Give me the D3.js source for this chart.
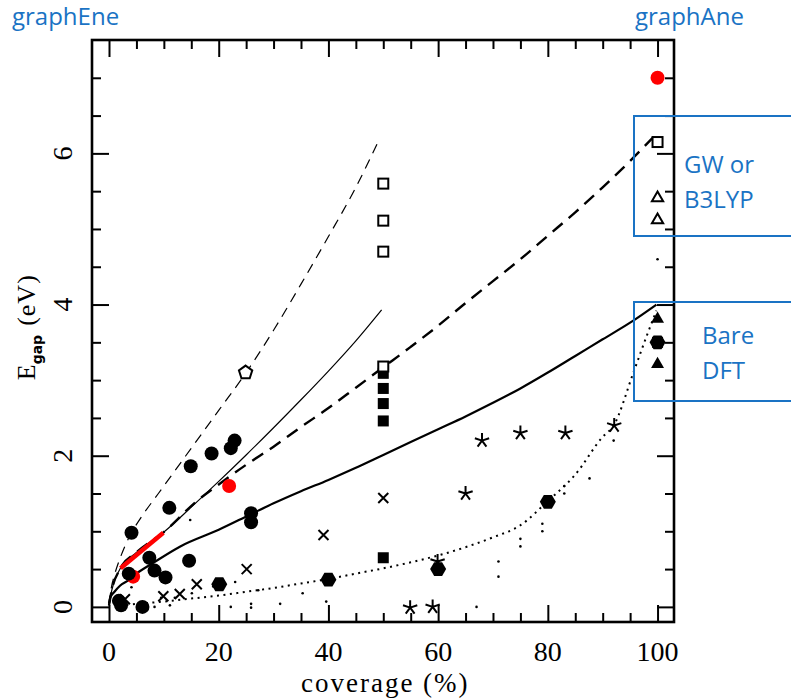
<!DOCTYPE html>
<html>
<head>
<meta charset="utf-8">
<script src="https://cdn.jsdelivr.net/npm/d3@7"></script>
<style>
  html, body { margin: 0; padding: 0; background: #fff; }
  svg { display: block; }
</style>
</head>
<body>
<svg id="chart" width="791" height="699"></svg>
<script>
// ---- data: band gap (eV) versus hydrogen coverage (%) ----
const xMajorTicks = [0, 20, 40, 60, 80, 100];
const yMajorTicks = [0, 2, 4, 6];

// model curves [coverage, gap]
const curveThinDashed = [[0,0.02],[0.3,0.2],[1,0.42],[2,0.64],[3,0.82],[4.1,0.98],[6,1.2],[9,1.5],[12,1.8],[15,2.1],[20,2.6],[25,3.10],[30,3.66],[35,4.27],[40,4.9],[45,5.55],[49.1,6.16]];
const curveThinSolid = [[0,0.02],[0.5,0.22],[2,0.5],[5,0.72],[10,0.99],[15,1.32],[20,1.66],[25,2.01],[30,2.37],[35,2.74],[40,3.12],[45,3.52],[49.7,3.93]];
const curveThickDashed = [[0,0.02],[0.5,0.22],[2,0.5],[5,0.72],[10,0.99],[16,1.40],[20,1.62],[25,1.88],[30,2.12],[35,2.38],[40,2.63],[45,2.90],[50,3.17],[55,3.44],[60,3.72],[65,4.02],[70,4.31],[75,4.60],[80,4.91],[85,5.22],[90,5.55],[95,5.90],[99.3,6.22]];
const curveThickSolid = [[0,0.05],[0.2,0.12],[1,0.2],[2,0.28],[3.5,0.35],[5,0.44],[8,0.58],[13,0.80],[20,1.02],[25.7,1.22],[30,1.37],[35,1.53],[40,1.68],[45,1.84],[50,2.01],[55,2.18],[60,2.35],[65,2.52],[70,2.70],[75,2.89],[80,3.10],[85,3.32],[90,3.54],[95,3.76],[99.8,4.0]];
const curveDotted = [[2,0.02],[5,0.04],[10,0.07],[15,0.11],[20,0.15],[25,0.2],[30,0.25],[35,0.31],[40,0.37],[45,0.44],[50,0.51],[55,0.59],[60,0.68],[65,0.79],[70,0.92],[75,1.08],[80,1.40],[85,1.75],[90,2.25],[92,2.40],[95.6,3.1],[98,3.58],[99.8,3.92]];

// measured / computed gaps
const filledCircles = [[1.8,0.08],[2.2,0.02],[6.1,0.0],[4.1,0.98],[7.35,0.65],[8.3,0.48],[10.3,0.39],[11.0,1.31],[14.6,0.61],[14.9,1.86],[18.7,2.03],[22.2,2.10],[22.9,2.20],[25.9,1.24],[25.9,1.12]];
const redCircles = [[4.4,0.40],[21.9,1.60],[100,7.0]];
const circlesOverRed = [[3.6,0.44]];
const filledHexagons = [[20.1,0.30],[40,0.36],[60,0.50],[80,1.39],[100,3.5]];
const openSquares = [[50,5.60],[50,5.11],[50,4.70],[50,3.18],[100,6.15]];
const filledSquares = [[50,3.09],[50,2.89],[50,2.69],[50,2.46],[50,0.65],[100,3.5]];
const openPentagons = [[24.9,3.10]];
const openTriangles = [[100,5.41],[100,5.12]];
const filledTriangles = [[100,3.81],[100,3.21]];
const crosses = [[2.9,0.10],[9.9,0.14],[12.9,0.17],[16.0,0.30],[25.1,0.50],[39.1,0.95],[50,1.44]];
const stars = [[54.9,-0.01],[59.0,0.0],[59.9,0.60],[65.0,1.50],[68.0,2.20],[75.0,2.30],[83.2,2.30],[92.1,2.40]];
const smallDots = [[4.1,0.26],[3.0,0.06],[5.5,0.02],[8.3,0.0],[11.1,0.02],[9.5,0.12],[12,0.12],[14.8,1.15],[15.1,0.18],[19.0,0.27],[23.0,0.33],[22.2,0.0],[25.9,0.04],[25.9,-0.01],[27.2,0.22],[31.2,0.04],[35.3,0.18],[39.6,0.07],[67.0,0.0],[71.0,0.60],[71.0,0.40],[75.0,0.90],[75.0,0.80],[79.0,1.10],[79.0,1.00],[83.0,1.60],[83.0,1.50],[87.6,1.70],[92.0,2.20],[100,4.60]];
const redSegment = [[2.1,0.51],[9.9,0.98]];

const topLabels = ["graphEne", "graphAne"];
const boxLabels = [["GW or", "B3LYP"], ["Bare", "DFT"]];

// ---- layout ----
const svg = d3.select("#chart");
const plot = { left: 92, right: 674, top: 40, bottom: 622 };
const x = d3.scaleLinear().domain([-3.1, 103]).range([plot.left, plot.right]);
const y = d3.scaleLinear().domain([-0.2, 7.5]).range([plot.bottom, plot.top]);
const serif = "'Liberation Serif', 'DejaVu Serif', serif";
const sans = "'Open Sans', 'Noto Sans', sans-serif";
const blue = "#1a73c4";

const g = svg.append("g");

// ---- axes with inward ticks on all four sides ----
const xMinor = d3.range(0, 101, 5).filter(v => v % 20 !== 0);
const yMinor = d3.range(0, 7.01, 0.5).filter(v => v % 2 !== 0);
function styleAxis(sel) {
  sel.select(".domain").remove();
  sel.selectAll(".tick line").attr("stroke", "#000").attr("stroke-width", 2);
  sel.selectAll("text").remove();
}
const axisDefs = [
  [d3.axisBottom, x, xMajorTicks, xMinor, `translate(0,${plot.bottom})`],
  [d3.axisTop, x, xMajorTicks, xMinor, `translate(0,${plot.top})`],
  [d3.axisLeft, y, yMajorTicks, yMinor, `translate(${plot.left},0)`],
  [d3.axisRight, y, yMajorTicks, yMinor, `translate(${plot.right},0)`]
];
axisDefs.forEach(([fn, sc, major, minor, tr]) => {
  g.append("g").attr("transform", tr)
    .call(fn(sc).tickValues(major).tickSize(-17)).call(styleAxis);
  g.append("g").attr("transform", tr)
    .call(fn(sc).tickValues(minor).tickSize(-9)).call(styleAxis);
});
g.append("rect")
  .attr("x", plot.left).attr("y", plot.top)
  .attr("width", plot.right - plot.left).attr("height", plot.bottom - plot.top)
  .attr("fill", "none").attr("stroke", "#000").attr("stroke-width", 2.6);

// tick labels (y labels run parallel to the axis)
g.selectAll(".xl").data(xMajorTicks).join("text")
  .attr("x", d => x(d)).attr("y", 661)
  .attr("text-anchor", "middle")
  .attr("font-family", serif).attr("font-size", 28)
  .text(d => d);
g.selectAll(".yl").data(yMajorTicks).join("text")
  .attr("transform", d => `translate(62,${y(d)}) rotate(-90)`)
  .attr("text-anchor", "middle").attr("dy", "0.35em")
  .attr("font-family", serif).attr("font-size", 28)
  .text(d => d);

// axis titles
g.append("text")
  .attr("x", (x(0) + x(100)) / 2 + 2).attr("y", 692)
  .attr("text-anchor", "middle")
  .attr("font-family", serif).attr("font-size", 27)
  .attr("letter-spacing", 2)
  .text("coverage (%)");
const yTitle = g.append("text")
  .attr("transform", `translate(35,${y(3.7)}) rotate(-90)`)
  .attr("text-anchor", "middle")
  .attr("font-family", serif).attr("font-size", 26);
yTitle.append("tspan").text("E");
yTitle.append("tspan").attr("font-family", "'DejaVu Sans', sans-serif").attr("font-weight", "bold")
  .attr("font-size", 14).attr("dy", 7).text("gap");
yTitle.append("tspan").attr("dy", -7).attr("dx", 9).attr("letter-spacing", 1).text("(eV)");

// ---- curves ----
const line = d3.line().x(d => x(d[0])).y(d => y(d[1])).curve(d3.curveMonotoneX);
const plotArea = g.append("g");
plotArea.append("path").datum(curveThinDashed).attr("d", line)
  .attr("fill", "none").attr("stroke", "#000").attr("stroke-width", 1.2).attr("stroke-dasharray", "10,7");
plotArea.append("path").datum(curveThinSolid).attr("d", line)
  .attr("fill", "none").attr("stroke", "#000").attr("stroke-width", 1.2);
plotArea.append("path").datum(curveThickDashed).attr("d", line)
  .attr("fill", "none").attr("stroke", "#000").attr("stroke-width", 2.4).attr("stroke-dasharray", "13,8");
plotArea.append("path").datum(curveThickSolid).attr("d", line)
  .attr("fill", "none").attr("stroke", "#000").attr("stroke-width", 2.2);
plotArea.append("path").datum(curveDotted).attr("d", line)
  .attr("fill", "none").attr("stroke", "#000").attr("stroke-width", 2).attr("stroke-dasharray", "2,4.5");

// ---- markers ----
const px = d => x(d[0]), py = d => y(d[1]);
function polygon(n, r, rot) {
  return d3.range(n).map(i => {
    const a = rot + i * 2 * Math.PI / n;
    return [r * Math.cos(a), r * Math.sin(a)];
  });
}
const polyPath = pts => "M" + pts.map(p => p.join(",")).join("L") + "Z";

plotArea.selectAll(".dot").data(smallDots).join("circle")
  .attr("cx", px).attr("cy", py).attr("r", 1.3).attr("fill", "#000");

plotArea.selectAll(".rc").data(redCircles).join("circle")
  .attr("cx", px).attr("cy", py).attr("r", 7).attr("fill", "#ff0000");
plotArea.append("path").datum(redSegment).attr("d", d3.line().x(px).y(py))
  .attr("stroke", "#ff0000").attr("stroke-width", 4.5).attr("fill", "none");

plotArea.selectAll(".fc").data(filledCircles.concat(circlesOverRed)).join("circle")
  .attr("cx", px).attr("cy", py).attr("r", 7).attr("fill", "#000");

plotArea.selectAll(".hx").data(filledHexagons).join("path")
  .attr("transform", d => `translate(${px(d)},${py(d)})`)
  .attr("d", polyPath(polygon(6, 8, 0))).attr("fill", "#000");

plotArea.selectAll(".fs").data(filledSquares).join("rect")
  .attr("x", d => px(d) - 5.5).attr("y", d => py(d) - 5.5)
  .attr("width", 11).attr("height", 11).attr("fill", "#000");

plotArea.selectAll(".os").data(openSquares).join("rect")
  .attr("x", d => px(d) - 5).attr("y", d => py(d) - 5)
  .attr("width", 10).attr("height", 10)
  .attr("fill", "#fff").attr("stroke", "#000").attr("stroke-width", 2);

plotArea.selectAll(".pg").data(openPentagons).join("path")
  .attr("transform", d => `translate(${px(d)},${py(d)})`)
  .attr("d", polyPath(polygon(5, 7, -Math.PI / 2)))
  .attr("fill", "#fff").attr("stroke", "#000").attr("stroke-width", 2);

plotArea.selectAll(".ot").data(openTriangles).join("path")
  .attr("transform", d => `translate(${px(d)},${py(d)})`)
  .attr("d", polyPath(polygon(3, 6.5, -Math.PI / 2)))
  .attr("fill", "#fff").attr("stroke", "#000").attr("stroke-width", 2);
plotArea.selectAll(".ft").data(filledTriangles).join("path")
  .attr("transform", d => `translate(${px(d)},${py(d)})`)
  .attr("d", polyPath(polygon(3, 7.5, -Math.PI / 2)))
  .attr("fill", "#000");

plotArea.selectAll(".cr").data(crosses).join("path")
  .attr("transform", d => `translate(${px(d)},${py(d)})`)
  .attr("d", "M-5,-5L5,5M-5,5L5,-5")
  .attr("stroke", "#000").attr("stroke-width", 2).attr("fill", "none");

const starPath = polygon(5, 7.5, -Math.PI / 2).map(p => `M0,0L${p[0]},${p[1]}`).join("");
plotArea.selectAll(".st").data(stars).join("path")
  .attr("transform", d => `translate(${px(d)},${py(d)})`)
  .attr("d", starPath)
  .attr("stroke", "#000").attr("stroke-width", 2).attr("fill", "none");

// ---- annotations ----
svg.append("text").attr("x", 12).attr("y", 25)
  .attr("font-family", sans).attr("font-size", 24).attr("fill", blue).text(topLabels[0]);
svg.append("text").attr("x", 635).attr("y", 25)
  .attr("font-family", sans).attr("font-size", 24).attr("fill", blue).text(topLabels[1]);

const boxes = [
  { top: 116, bottom: 236, lines: boxLabels[0], tx: 684, ty: [173, 208] },
  { top: 302, bottom: 401, lines: boxLabels[1], tx: 702, ty: [344, 379] }
];
boxes.forEach(b => {
  svg.append("rect").attr("x", 634).attr("y", b.top)
    .attr("width", 200).attr("height", b.bottom - b.top)
    .attr("fill", "none").attr("stroke", blue).attr("stroke-width", 2);
  b.lines.forEach((t, i) => {
    svg.append("text").attr("x", b.tx).attr("y", b.ty[i])
      .attr("font-family", sans).attr("font-size", 24).attr("fill", blue).text(t);
  });
});
</script>
</body>
</html>
